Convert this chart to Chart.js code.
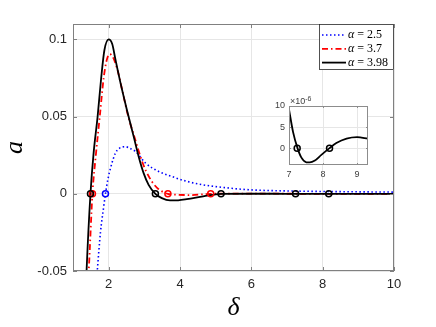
<!DOCTYPE html>
<html>
<head>
<meta charset="utf-8">
<script src="https://cdn.jsdelivr.net/npm/chart.js@4.4.1/dist/chart.umd.min.js"></script>
<style>
  html, body { margin: 0; padding: 0; background: #fff; }
  #wrap { position: relative; width: 436px; height: 327px; }
  #insetChart { position: absolute; left: 260px; top: 95px; }
</style>
</head>
<body>
<div id="wrap">
  <canvas id="mainChart" width="436" height="327"></canvas>
  <canvas id="insetChart" width="115" height="90"></canvas>
</div>
<script>
// values
var alphas = [2.5, 3.7, 3.98];

var deltaBlue = [1.58, 1.68, 1.77, 1.86, 1.91, 1.98, 2.05, 2.19, 2.30, 2.47, 2.62, 2.75, 3.03, 3.40, 3.77, 4.14, 4.65, 5.3, 5.96, 7.26, 8.5, 10];
var aBlue = [-0.08, -0.05, -0.025, -0.0085, 0, 0.0095, 0.0165, 0.0264, 0.0295, 0.0305, 0.0292, 0.0275, 0.020, 0.0145, 0.0112, 0.0084, 0.0058, 0.0039, 0.0026, 0.00175, 0.0014, 0.0011];

var deltaRed = [1.34, 1.44, 1.545, 1.64, 1.75, 1.86, 1.95, 2.03, 2.13, 2.25, 2.40, 2.55, 2.72, 2.89, 3.03, 3.21, 3.40, 3.66, 3.91, 4.3, 4.86, 6.0, 8.0, 10];
var aRed = [-0.08, -0.05, 0, 0.025, 0.05, 0.075, 0.087, 0.0905, 0.088, 0.08, 0.065, 0.05, 0.037, 0.0242, 0.0156, 0.008, 0.003, 0, -0.0006, -0.0008, 0, 0.0001, 0, 0];

var deltaBlack = [1.30, 1.38, 1.49, 1.58, 1.69, 1.79, 1.88, 2.00, 2.10, 2.19, 2.33, 2.51, 2.70, 2.84, 2.98, 3.12, 3.31, 3.49, 3.72, 3.95, 4.19, 4.65, 5.15, 6.0, 7.0, 7.25, 7.61, 8.19, 9.0, 10];
var aBlack = [-0.10, -0.05, 0, 0.027, 0.05, 0.075, 0.093, 0.100, 0.097, 0.087, 0.072, 0.0545, 0.0372, 0.0242, 0.0134, 0.0058, 0, -0.0028, -0.0043, -0.0042, -0.0035, -0.0017, 0, 0.00005, 0.0000092, 0, -0.0000034, 0, 0.0000026, 0.000002];

var zerosBlue = [1.91];
var zerosRed = [1.545, 3.66, 4.86];
var zerosBlack = [1.49, 3.31, 5.15, 7.24, 8.17];

var xTicks = [2, 4, 6, 8, 10];
var yTicks = [-0.05, 0, 0.05, 0.1];

// inset, a in units of 1e-6
var insetDelta = [7.0, 7.12, 7.25, 7.36, 7.51, 7.61, 7.76, 7.95, 8.19, 8.39, 8.69, 9.0, 9.32];
var insetA = [9.2, 3.8, 0, -2.2, -3.35, -3.4, -2.95, -1.6, 0, 1.2, 2.25, 2.6, 2.25];
var insetZeros = [7.24, 8.19];
var insetXTicks = [7, 8, 9];
var insetYTicks = [0, 5, 10];

function pts(xs, ys) {
  return xs.map(function (x, i) { return { x: x, y: ys[i] }; });
}
function zeroPts(xs) {
  return xs.map(function (x) { return { x: x, y: 0 }; });
}

var tickFont = { family: 'Liberation Sans', size: 13 };
var gridColor = '#e6e6e6';

var styles = [
  { color: '#0000ff', dash: [1.5, 2.5], width: 1.6 },
  { color: '#ff0000', dash: [6, 3, 1.5, 3], width: 1.8 },
  { color: '#000000', dash: [], width: 1.8 }
];

function lineSet(data, s) {
  return {
    data: data, borderColor: s.color, borderDash: s.dash, borderWidth: s.width,
    pointRadius: 0, fill: false, cubicInterpolationMode: 'monotone', clip: 0
  };
}
function markerSet(data, color) {
  return {
    data: data, showLine: false, pointRadius: 3, pointBorderWidth: 1.5,
    pointBorderColor: color, pointBackgroundColor: 'rgba(0,0,0,0)', clip: false
  };
}

var framePlugin = {
  id: 'frame',
  afterDraw: function (chart, args, opts) {
    var a = chart.chartArea, c = chart.ctx;
    c.save();
    c.strokeStyle = opts.color || '#808080';
    c.lineWidth = 1;
    c.strokeRect(Math.round(a.left) + 0.5, Math.round(a.top) + 0.5,
      Math.round(a.right - a.left) - 1, Math.round(a.bottom - a.top) - 1);
    var tl = opts.tick || 0;
    if (tl) {
      c.beginPath();
      chart.scales.x.ticks.forEach(function (t) {
        var px = Math.round(chart.scales.x.getPixelForValue(t.value)) + 0.5;
        c.moveTo(px, a.bottom); c.lineTo(px, a.bottom - tl);
        c.moveTo(px, a.top); c.lineTo(px, a.top + tl);
      });
      chart.scales.y.ticks.forEach(function (t) {
        var py = Math.round(chart.scales.y.getPixelForValue(t.value)) + 0.5;
        c.moveTo(a.left, py); c.lineTo(a.left + tl, py);
        c.moveTo(a.right, py); c.lineTo(a.right - tl, py);
      });
      c.stroke();
    }
    c.restore();
  }
};

var legendPlugin = {
  id: 'boxLegend',
  afterDraw: function (chart) {
    var c = chart.ctx, a = chart.chartArea;
    var w = 75, h = 46;
    var x0 = a.right - w, y0 = a.top;
    c.save();
    c.fillStyle = '#fff';
    c.fillRect(x0, y0, w, h);
    c.strokeStyle = '#262626';
    c.lineWidth = 0.8;
    c.strokeRect(x0 + 0.5, y0 + 0.5, w - 1, h - 1);
    c.textBaseline = 'middle';
    alphas.forEach(function (v, i) {
      var s = styles[i];
      var y = y0 + 11 + i * 13.8;
      c.beginPath();
      c.strokeStyle = s.color;
      c.lineWidth = s.width;
      c.setLineDash(s.dash);
      c.moveTo(x0 + 3, y); c.lineTo(x0 + 27, y);
      c.stroke();
      c.setLineDash([]);
      c.fillStyle = '#000';
      c.font = 'italic 12px "Liberation Serif"';
      c.fillText('α', x0 + 29, y);
      var aw = c.measureText('α').width;
      c.font = '12px "Liberation Serif"';
      c.fillText(' = ' + v, x0 + 29 + aw, y);
    });
    c.restore();
  }
};

new Chart(document.getElementById('mainChart').getContext('2d'), {
  type: 'line',
  data: {
    datasets: [
      markerSet(zeroPts(zerosBlack), '#000000'),
      markerSet(zeroPts(zerosRed), '#ff0000'),
      markerSet(zeroPts(zerosBlue), '#0000ff'),
      lineSet(pts(deltaBlack, aBlack), styles[2]),
      lineSet(pts(deltaRed, aRed), styles[1]),
      lineSet(pts(deltaBlue, aBlue), styles[0])
    ]
  },
  options: {
    responsive: false,
    animation: false,
    layout: { padding: { top: 24, right: 42, left: 0, bottom: 0 } },
    plugins: {
      legend: { display: false },
      tooltip: { enabled: false },
      frame: { color: '#808080', tick: 4 }
    },
    scales: {
      x: {
        type: 'linear', min: 1, max: 10,
        afterBuildTicks: function (s) { s.ticks = xTicks.map(function (v) { return { value: v }; }); },
        afterFit: function (s) { s.height = 56; },
        grid: { color: gridColor, drawTicks: false },
        border: { display: false },
        ticks: { padding: 6, color: '#262626', font: tickFont, maxRotation: 0,
          callback: function (v) { return String(v); } },
        title: { display: true, text: 'δ', color: '#000',
          font: { family: 'Liberation Serif', size: 26, style: 'italic' },
          padding: { top: 0, bottom: 3 } }
      },
      y: {
        type: 'linear', min: -0.05, max: 0.11,
        afterBuildTicks: function (s) { s.ticks = yTicks.map(function (v) { return { value: v }; }); },
        afterFit: function (s) { s.width = 73; },
        grid: { color: gridColor, drawTicks: false },
        border: { display: false },
        ticks: { padding: 6, color: '#262626', font: tickFont,
          callback: function (v) { return String(v); } },
        title: { display: true, text: 'a', color: '#000',
          font: { family: 'Liberation Serif', size: 26, style: 'italic' },
          padding: { top: 0, bottom: 0 } }
      }
    }
  },
  plugins: [framePlugin, legendPlugin]
});

var insetBgPlugin = {
  id: 'insetBg',
  beforeDraw: function (chart) {
    var a = chart.chartArea, c = chart.ctx;
    c.save();
    c.fillStyle = '#fff';
    c.fillRect(a.left, a.top, a.right - a.left, a.bottom - a.top);
    c.restore();
  },
  afterDraw: function (chart) {
    var a = chart.chartArea, c = chart.ctx;
    c.save();
    c.fillStyle = '#404040';
    c.textBaseline = 'middle';
    c.font = '9px "Liberation Sans"';
    c.fillText('×10', a.left + 1, a.top - 4.5);
    var w = c.measureText('×10').width;
    c.font = '7px "Liberation Sans"';
    c.fillText('-6', a.left + 1 + w, a.top - 7);
    c.restore();
  }
};

var insetTickFont = { family: 'Liberation Sans', size: 9 };

new Chart(document.getElementById('insetChart').getContext('2d'), {
  type: 'line',
  data: {
    datasets: [
      markerSet(zeroPts(insetZeros), '#000000'),
      lineSet(pts(insetDelta, insetA), styles[2])
    ]
  },
  options: {
    responsive: false,
    animation: false,
    layout: { padding: { top: 11, right: 7, left: 0, bottom: 0 } },
    plugins: {
      legend: { display: false },
      tooltip: { enabled: false },
      frame: { color: '#8c8c8c', tick: 2 }
    },
    scales: {
      x: {
        type: 'linear', min: 7, max: 9.32,
        afterBuildTicks: function (s) { s.ticks = insetXTicks.map(function (v) { return { value: v }; }); },
        afterFit: function (s) { s.height = 20; },
        grid: { color: gridColor, drawTicks: false },
        border: { display: false },
        ticks: { padding: 4, color: '#404040', font: insetTickFont, maxRotation: 0,
          callback: function (v) { return String(v); } }
      },
      y: {
        type: 'linear', min: -4, max: 10,
        afterBuildTicks: function (s) { s.ticks = insetYTicks.map(function (v) { return { value: v }; }); },
        afterFit: function (s) { s.width = 29; },
        grid: { color: gridColor, drawTicks: false },
        border: { display: false },
        ticks: { padding: 4, color: '#404040', font: insetTickFont,
          callback: function (v) { return String(v); } }
      }
    }
  },
  plugins: [insetBgPlugin, framePlugin]
});
</script>
</body>
</html>
